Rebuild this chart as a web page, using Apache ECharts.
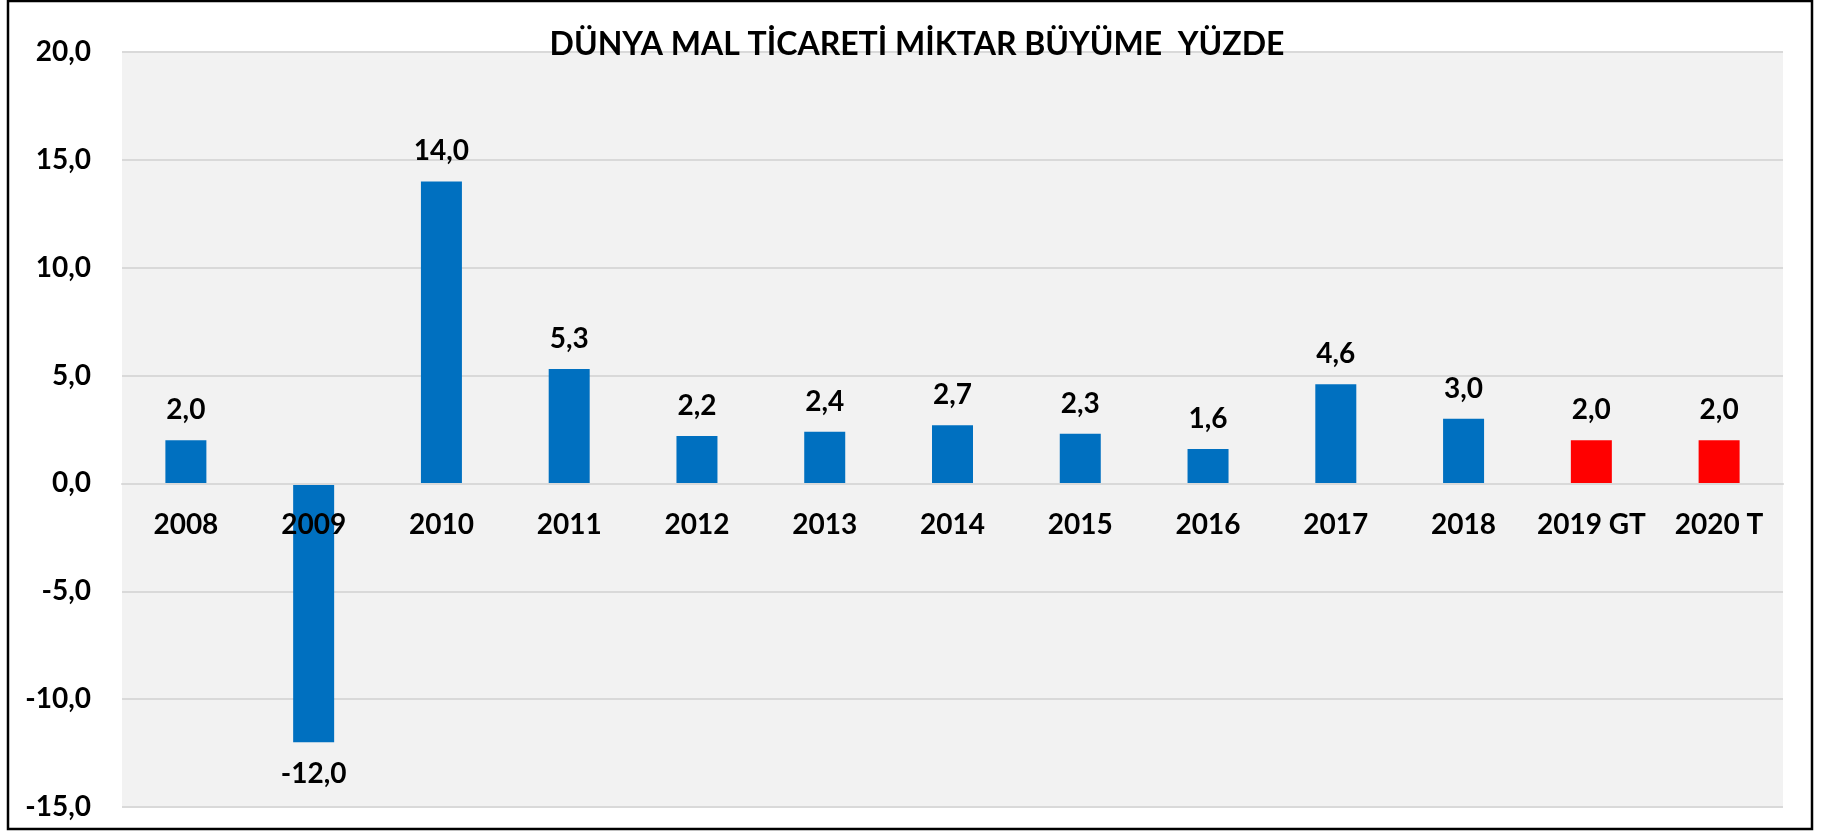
<!DOCTYPE html>
<html>
<head>
<meta charset="utf-8">
<script src="https://cdn.jsdelivr.net/npm/echarts@6/dist/echarts.min.js"></script>
<style>
  html, body { margin: 0; padding: 0; background: #fff; }
  #main { width: 1834px; height: 831px; }
</style>
</head>
<body>
<div id="main"></div>
<script>
var titleText = 'DÜNYA MAL TİCARETİ MİKTAR BÜYÜME  YÜZDE';
var years = ['2008', '2009', '2010', '2011', '2012', '2013', '2014', '2015', '2016', '2017', '2018', '2019 GT', '2020 T'];
var growth = [2.0, -12.0, 14.0, 5.3, 2.2, 2.4, 2.7, 2.3, 1.6, 4.6, 3.0, 2.0, 2.0];
var yTicks = [-15, -10, -5, 0, 5, 10, 15, 20];

var font = 'Lato, "Open Sans", sans-serif';

function fmt(v) {
  return Number(v).toFixed(1).replace('.', ',');
}

// grid box (px)
var gridTop = 52, gridBottom = 24, chartH = 831;
var yMin = yTicks[0], yMax = yTicks[yTicks.length - 1];
var plotH = chartH - gridTop - gridBottom;
// move the category axis up onto the zero line
var zeroOffset = -plotH * (0 - yMin) / (yMax - yMin);

var chart = echarts.init(document.getElementById('main'));

var barData = growth.map(function (v) {
  return {
    value: v,
    label: v < 0 ? { position: 'bottom', distance: 18 } : { position: 'top', distance: 16 }
  };
});

chart.setOption({
  backgroundColor: '#ffffff',
  animation: false,
  title: {
    text: titleText,
    left: 912,
    top: 24,
    textAlign: 'center',
    textStyle: { fontFamily: font, fontWeight: 'bold', fontSize: 32, color: '#000' }
  },
  graphic: [{
    type: 'rect',
    z: 100,
    shape: { x: 8, y: 1, width: 1804, height: 828 },
    style: { fill: 'none', stroke: '#000', lineWidth: 2.5 }
  }],
  grid: {
    left: 122,
    right: 51,
    top: gridTop,
    bottom: gridBottom,
    outerBoundsMode: 'none',
    containLabel: false,
    show: true,
    backgroundColor: '#f2f2f2',
    borderWidth: 0
  },
  xAxis: {
    type: 'category',
    data: years,
    z: 10,
    offset: zeroOffset,
    axisLine: { onZero: false, lineStyle: { color: '#d9d9d9', width: 2 } },
    axisTick: { show: false },
    axisLabel: {
      margin: 28,
      interval: 0,
      fontFamily: font,
      fontWeight: 'bold',
      fontSize: 28,
      color: '#000'
    }
  },
  yAxis: {
    type: 'value',
    min: yMin,
    max: yMax,
    interval: 5,
    axisLine: { show: false },
    axisTick: { show: false },
    splitLine: { lineStyle: { color: '#d9d9d9', width: 2 } },
    axisLabel: {
      margin: 31,
      fontFamily: font,
      fontWeight: 'bold',
      fontSize: 28,
      color: '#000',
      formatter: fmt
    }
  },
  series: [{
    type: 'bar',
    data: barData,
    barWidth: 41,
    itemStyle: {
      color: function (p) {
        return /T$/.test(years[p.dataIndex]) ? '#ff0000' : '#0070c0';
      }
    },
    label: {
      show: true,
      fontFamily: font,
      fontWeight: 'bold',
      fontSize: 28,
      color: '#000',
      formatter: function (p) { return fmt(p.value); }
    }
  }]
});
</script>
</body>
</html>
